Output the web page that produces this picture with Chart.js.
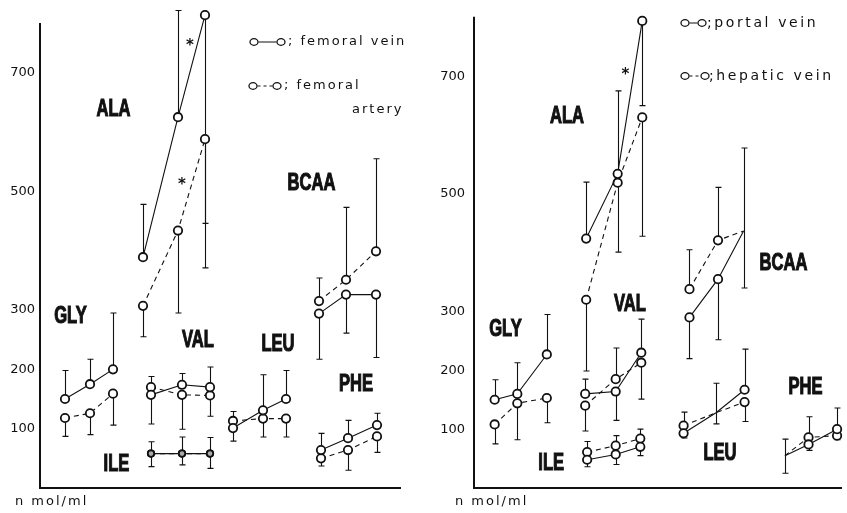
<!DOCTYPE html>
<html>
<head>
<meta charset="utf-8">
<script src="https://cdn.jsdelivr.net/npm/chart.js@4.4.1/dist/chart.umd.min.js"></script>
<style>
  body { margin: 0; background: #fff; }
  #wrap { position: relative; width: 847px; height: 513px; }
  canvas { position: absolute; top: 0; }
</style>
</head>
<body>
<div id="wrap">
  <canvas id="femoral" width="420" height="513" style="left:0"></canvas>
  <canvas id="hepatic" width="427" height="513" style="left:420px"></canvas>
</div>
<script>
// amino acid groups, three sampling points each (n mol/ml)
const acids = ['GLY', 'ALA', 'VAL', 'ILE', 'LEU', 'BCAA', 'PHE'];
const yTicks = [100, 200, 300, 500, 700];

// femoral panel
const femX = [
  [2.5, 5.0, 7.3],
  [10.3, 13.8, 16.5],
  [11.1, 14.2, 17.0],
  [11.1, 14.2, 17.0],
  [19.3, 22.3, 24.6],
  [27.9, 30.6, 33.6],
  [28.1, 30.8, 33.7]
];
const femoralVein = [
  [150, 175, 200],
  [389, 625, 797],
  [157, 174, 170],
  [58, 58, 58],
  [101, 131, 150],
  [294, 326, 326],
  [64, 84, 106]
];
// end of each point's SD bar
const femoralVeinBar = [
  [198, 217, 295],
  [478, 805, 446],
  [108, 193, 204],
  [78, 86, 85],
  [79, 191, 198],
  [217, 261, 220],
  [92, 114, 126]
];
const femoralArtery = [
  [118, 126, 159],
  [307, 434, 588],
  [170, 157, 156],
  [58, 58, 58],
  [113, 117, 117],
  [315, 351, 399],
  [50, 64, 87]
];
const femoralArteryBar = [
  [87, 90, 106],
  [255, 295, 371],
  [188, 99, 121],
  [36, 39, 33],
  [129, 86, 86],
  [354, 473, 555],
  [37, 30, 60]
];
const femLabelX = [3.05, 7.35, 15.8, 7.65, 23.8, 27.15, 31.6];
const femLabelY = [288, 637, 248, 40, 242, 513, 175];
const femStars = [[15.0, 745], [14.2, 511]];

// portal / hepatic panel
const porX = [
  [2.1, 4.4, 7.4],
  [11.4, 14.6, 17.1],
  [11.3, 14.4, 17.0],
  [11.5, 14.4, 16.9],
  [21.3, 24.6, 27.5],
  [21.9, 24.8, 27.4],
  [31.6, 34.0, 36.9]
];
const portalVein = [
  [150, 160, 227],
  [424, 534, 794],
  [160, 164, 230],
  [48, 57, 70],
  [93, 128, 167],
  [290, 355, 437],
  [55, 74, 100]
];
const portalVeinBar = [
  [184, 213, 295],
  [520, 675, 650],
  [185, 115, 287],
  [36, 40, 55],
  [85, 178, 236],
  [220, 252, 578],
  [25, 64, 136]
];
const hepaticVein = [
  [108, 144, 153],
  [320, 519, 630],
  [140, 185, 213],
  [61, 72, 84],
  [106, 128, 146],
  [338, 421, 437],
  [55, 86, 89]
];
const hepaticVeinBar = [
  [75, 82, 111],
  [199, 401, 428],
  [97, 238, 151],
  [79, 89, 100],
  [129, 109, 113],
  [405, 511, 340],
  [83, 121, 82]
];
// [group, point] pairs drawn without a circle
const porUnmarked = [[4, 1], [5, 2], [6, 0]];
const porLabelX = [3.2, 9.45, 15.85, 7.85, 25.0, 31.45, 33.7];
const porLabelY = [269, 631, 311, 41, 59, 382, 170];
const porStars = [[15.4, 702]];

const INK = '#111';

function makeSets(xs, vals, bars, dashed, unmarked, small) {
  return acids.map((name, g) => ({
    label: name,
    data: xs[g].map((x, j) => ({ x: x, y: vals[g][j] })),
    bars: bars[g],
    borderColor: INK,
    borderWidth: 1.1,
    borderDash: dashed ? [5, 4] : [],
    pointRadius: xs[g].map((x, j) =>
      unmarked.some(u => u[0] === g && u[1] === j) ? 0 : (small === g ? 3.2 : 4.2)),
    pointBorderWidth: 1.8,
    pointBorderColor: INK,
    pointBackgroundColor: small === g ? '#aaa' : '#fff',
    pointHoverRadius: 4,
    tension: 0,
    clip: false
  }));
}

// SD bars: one vertical stroke from the mean to the bar end, capped
const errorBars = {
  id: 'errorBars',
  beforeDatasetsDraw(chart) {
    const ctx = chart.ctx, xs = chart.scales.x, ys = chart.scales.y;
    ctx.save();
    ctx.strokeStyle = INK;
    ctx.lineWidth = 1.1;
    chart.data.datasets.forEach(ds => {
      ds.data.forEach((p, j) => {
        const end = ds.bars[j];
        if (end == null || end === p.y) return;
        const x = Math.round(xs.getPixelForValue(p.x)) + 0.5;
        const y0 = ys.getPixelForValue(p.y);
        const y1 = ys.getPixelForValue(end);
        ctx.beginPath();
        ctx.moveTo(x, y0);
        ctx.lineTo(x, y1);
        ctx.moveTo(x - 3, y1);
        ctx.lineTo(x + 3, y1);
        ctx.stroke();
      });
    });
    ctx.restore();
  }
};

// vertical axis line, stopping below the top of the plot area
function axisLine(topValue) {
  return {
    id: 'axisLine',
    beforeDatasetsDraw(chart) {
      const ctx = chart.ctx, ys = chart.scales.y;
      const x = chart.chartArea.left;
      ctx.save();
      ctx.strokeStyle = INK;
      ctx.lineWidth = 2;
      ctx.beginPath();
      ctx.moveTo(x, ys.getPixelForValue(topValue));
      ctx.lineTo(x, chart.chartArea.bottom + 1);
      ctx.stroke();
      ctx.restore();
    }
  };
}

function condensed(ctx, text, x, y) {
  ctx.save();
  ctx.translate(x, y);
  ctx.scale(0.72, 1);
  ctx.font = 'bold 23px "Liberation Sans", Arial, sans-serif';
  ctx.textAlign = 'center';
  ctx.textBaseline = 'middle';
  ctx.fillStyle = INK;
  ctx.strokeStyle = INK;
  ctx.lineWidth = 1.1;
  ctx.fillText(text, 0, 0);
  ctx.strokeText(text, 0, 0);
  ctx.restore();
}

function legendRow(ctx, x1, x2, y, dashed, text, tx, size, spacing) {
  ctx.save();
  ctx.strokeStyle = INK;
  ctx.lineWidth = 1.3;
  [x1, x2].forEach(cx => {
    ctx.beginPath();
    ctx.ellipse(cx, y, 4, 3.3, 0, 0, Math.PI * 2);
    ctx.stroke();
  });
  ctx.lineWidth = 1;
  ctx.setLineDash(dashed ? [3, 3] : []);
  ctx.beginPath();
  ctx.moveTo(x1 + 4.5, y);
  ctx.lineTo(x2 - 4.5, y);
  ctx.stroke();
  ctx.restore();
  plainText(ctx, text, tx, y, size, spacing);
}

function plainText(ctx, text, x, y, size, spacing) {
  ctx.save();
  ctx.font = (size || 13) + 'px "DejaVu Sans", sans-serif';
  ctx.letterSpacing = (spacing || 2) + 'px';
  ctx.fillStyle = INK;
  ctx.textAlign = 'left';
  ctx.textBaseline = 'middle';
  ctx.fillText(text, x, y);
  ctx.restore();
}

function annotations(labelX, labelY, stars, drawLegend) {
  return {
    id: 'annotations',
    afterDatasetsDraw(chart) {
      const ctx = chart.ctx, xs = chart.scales.x, ys = chart.scales.y;
      acids.forEach((name, g) => {
        condensed(ctx, name, xs.getPixelForValue(labelX[g]), ys.getPixelForValue(labelY[g]));
      });
      ctx.save();
      ctx.font = 'bold 15px "DejaVu Sans", sans-serif';
      ctx.fillStyle = INK;
      ctx.textAlign = 'center';
      ctx.textBaseline = 'middle';
      stars.forEach(s => ctx.fillText('*', xs.getPixelForValue(s[0]), ys.getPixelForValue(s[1])));
      ctx.restore();
      drawLegend(ctx, chart.chartArea);
    }
  };
}

function panel(id, xs, solid, solidBars, dash, dashBars, unmarked, small, xMax, yMax,
               yWidth, padRight, tickPad, plugins) {
  return new Chart(document.getElementById(id), {
    type: 'line',
    data: {
      datasets: makeSets(xs, solid, solidBars, false, unmarked, small)
        .concat(makeSets(xs, dash, dashBars, true, unmarked, small))
    },
    options: {
      responsive: false,
      animation: false,
      events: [],
      layout: { padding: { top: 10, right: padRight, left: 0, bottom: 0 } },
      plugins: { legend: { display: false }, tooltip: { enabled: false } },
      scales: {
        x: {
          type: 'linear',
          min: 0,
          max: xMax,
          ticks: { display: false },
          grid: { drawOnChartArea: false, drawTicks: false },
          border: { display: true, color: INK, width: 2 },
          afterFit: s => { s.height = 25; }
        },
        y: {
          type: 'linear',
          min: 0,
          max: yMax,
          afterBuildTicks: s => { s.ticks = yTicks.map(v => ({ value: v })); },
          ticks: {
            color: INK,
            padding: tickPad,
            font: { family: '"DejaVu Sans", sans-serif', size: 13 }
          },
          grid: { drawOnChartArea: false, drawTicks: false },
          border: { display: false },
          afterFit: s => { s.width = yWidth; }
        }
      }
    },
    plugins: plugins
  });
}

// chart area spans 10..488 px, i.e. 0..801 at 0.597 px per unit
panel('femoral', femX, femoralVein, femoralVeinBar, femoralArtery, femoralArteryBar,
  [], 3, 36, 801, 40, 20, 5,
  [axisLine(784), errorBars, annotations(femLabelX, femLabelY, femStars, ctx => {
    legendRow(ctx, 254, 281, 42, false, '; femoral vein', 288);
    legendRow(ctx, 253, 277, 86, true, '; femoral', 284);
    plainText(ctx, 'artery', 352, 110);
    plainText(ctx, 'n mol/ml', 15, 502);
  })]);

panel('hepatic', porX, portalVein, portalVeinBar, hepaticVein, hepaticVeinBar,
  porUnmarked, -1, 37.3, 801, 54, 0, 9,
  [axisLine(801), errorBars, annotations(porLabelX, porLabelY, porStars, ctx => {
    legendRow(ctx, 265, 282, 23, false, ';portal vein', 287, 14, 2.6);
    legendRow(ctx, 265, 285, 76, true, ';hepatic vein', 289, 14, 2.6);
    plainText(ctx, 'n mol/ml', 35, 502);
  })]);
</script>
</body>
</html>
